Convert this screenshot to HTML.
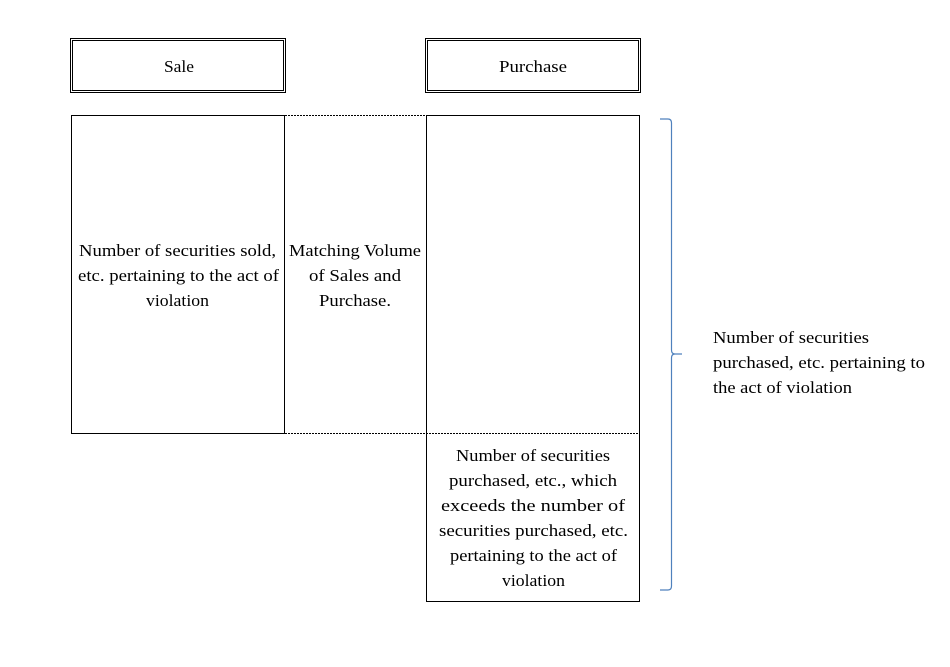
<!DOCTYPE html>
<html><head><meta charset="utf-8"><style>
body{margin:0;background:#fff}
svg text{font-family:"Liberation Serif",serif;font-size:17px;fill:#000}
</style></head><body>
<svg width="950" height="662" viewBox="0 0 950 662" xmlns="http://www.w3.org/2000/svg">
<g fill="none" stroke="#000">
<rect x="70.5" y="38.5" width="215" height="54" stroke-width="1"/>
<rect x="72.5" y="40.5" width="211" height="50" stroke-width="1"/>
<rect x="425.5" y="38.5" width="215" height="54" stroke-width="1"/>
<rect x="427.5" y="40.5" width="211" height="50" stroke-width="1"/>
<rect x="71.5" y="115.5" width="213" height="318"/>
<rect x="426.5" y="115.5" width="213" height="486"/>
<line x1="285" y1="115.5" x2="426" y2="115.5" stroke-dasharray="2,1"/>
<line x1="285" y1="433.5" x2="639" y2="433.5" stroke-dasharray="2,1"/>
<path d="M660,119 L668,119 Q671.5,119 671.5,123 L671.5,350 Q671.5,354 675,354 L682,354 M675,354 Q671.5,354 671.5,358 L671.5,586 Q671.5,590 668,590 L660,590" stroke="#4f81bd" stroke-width="1.2"/>
</g>
<g lengthAdjust="spacingAndGlyphs">
<text x="164" y="72" textLength="30" lengthAdjust="spacingAndGlyphs">Sale</text>
<text x="499" y="72" textLength="68" lengthAdjust="spacingAndGlyphs">Purchase</text>
<text x="79" y="256" textLength="197" lengthAdjust="spacingAndGlyphs">Number of securities sold,</text>
<text x="78" y="281" textLength="201" lengthAdjust="spacingAndGlyphs">etc. pertaining to the act of</text>
<text x="146" y="306" textLength="63" lengthAdjust="spacingAndGlyphs">violation</text>
<text x="289" y="256" textLength="132" lengthAdjust="spacingAndGlyphs">Matching Volume</text>
<text x="309" y="281" textLength="92" lengthAdjust="spacingAndGlyphs">of Sales and</text>
<text x="319" y="306" textLength="72" lengthAdjust="spacingAndGlyphs">Purchase.</text>
<text x="456" y="461" textLength="154" lengthAdjust="spacingAndGlyphs">Number of securities</text>
<text x="449" y="486" textLength="168" lengthAdjust="spacingAndGlyphs">purchased, etc., which</text>
<text x="441" y="511" textLength="184" lengthAdjust="spacingAndGlyphs">exceeds the number of</text>
<text x="439" y="536" textLength="189" lengthAdjust="spacingAndGlyphs">securities purchased, etc.</text>
<text x="450" y="561" textLength="167" lengthAdjust="spacingAndGlyphs">pertaining to the act of</text>
<text x="502" y="586" textLength="63" lengthAdjust="spacingAndGlyphs">violation</text>
<text x="713" y="343" textLength="156" lengthAdjust="spacingAndGlyphs">Number of securities</text>
<text x="713" y="368" textLength="212" lengthAdjust="spacingAndGlyphs">purchased, etc. pertaining to</text>
<text x="713" y="393" textLength="139" lengthAdjust="spacingAndGlyphs">the act of violation</text>
</g>
</svg>
</body></html>
